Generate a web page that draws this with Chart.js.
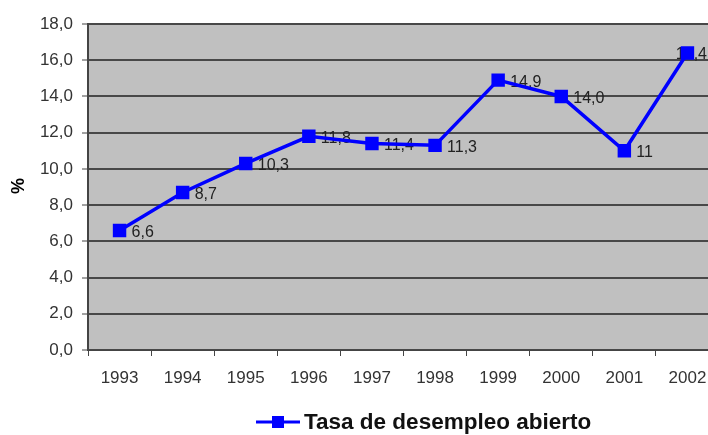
<!DOCTYPE html>
<html>
<head>
<meta charset="utf-8">
<script src="https://cdn.jsdelivr.net/npm/chart.js@4"></script>
<style>
  html, body { margin: 0; padding: 0; background: #fff; overflow: hidden; }
  #wrap { width: 720px; height: 435px; }
</style>
</head>
<body>
<div id="wrap"><canvas id="chart" width="720" height="435"></canvas></div>
<script>
// datos
const years = ['1993', '1994', '1995', '1996', '1997', '1998', '1999', '2000', '2001', '2002'];
const tasa = [6.6, 8.7, 10.3, 11.8, 11.4, 11.3, 14.9, 14.0, 11, 16.4];
const etiquetas = ['6,6', '8,7', '10,3', '11,8', '11,4', '11,3', '14,9', '14,0', '11', '16,4'];
const serieNombre = 'Tasa de desempleo abierto';

const BLUE = '#0000ff';
const FONT = "'Liberation Sans', Arial, sans-serif";

// fondo gris del área de trazado
const fondo = {
  id: 'fondo',
  beforeDraw(chart) {
    const { ctx, chartArea: a } = chart;
    ctx.save();
    ctx.fillStyle = '#c0c0c0';
    ctx.fillRect(a.left, a.top, a.right - a.left, a.bottom - a.top);
    ctx.restore();
  }
};

// etiquetas de datos (debajo de la línea), título del eje y leyenda
const extras = {
  id: 'extras',
  beforeDatasetsDraw(chart) {
    const { ctx } = chart;
    const meta = chart.getDatasetMeta(0);
    ctx.save();
    ctx.font = '16px ' + FONT;
    ctx.fillStyle = '#222';
    ctx.textBaseline = 'middle';
    ctx.textAlign = 'left';
    meta.data.forEach((pt, i) => {
      const w = ctx.measureText(etiquetas[i]).width;
      let x = pt.x + 12;
      if (x + w > 707) x = 707 - w;
      ctx.fillText(etiquetas[i], x, pt.y + 2);
    });
    ctx.restore();
  },
  afterDatasetsDraw(chart) {
    const { ctx } = chart;
    ctx.save();
    // "%"
    ctx.save();
    ctx.translate(19, 186);
    ctx.rotate(-Math.PI / 2);
    ctx.font = 'bold 18px ' + FONT;
    ctx.fillStyle = '#000';
    ctx.textAlign = 'center';
    ctx.textBaseline = 'middle';
    ctx.fillText('%', 0, 0);
    ctx.restore();

    // leyenda
    const ly = 422;
    ctx.strokeStyle = BLUE;
    ctx.lineWidth = 3;
    ctx.beginPath();
    ctx.moveTo(256, ly);
    ctx.lineTo(300, ly);
    ctx.stroke();
    ctx.fillStyle = BLUE;
    ctx.fillRect(272, ly - 6, 12, 12);
    ctx.font = 'bold 22.5px ' + FONT;
    ctx.fillStyle = '#111';
    ctx.textAlign = 'left';
    ctx.textBaseline = 'middle';
    ctx.fillText(serieNombre, 304, ly + 1);
    ctx.restore();
  }
};

new Chart(document.getElementById('chart'), {
  type: 'line',
  data: {
    labels: years,
    datasets: [{
      label: serieNombre,
      data: tasa,
      borderColor: BLUE,
      backgroundColor: BLUE,
      borderWidth: 3.5,
      pointStyle: 'rect',
      pointRadius: 9.5,
      pointBorderWidth: 0,
      tension: 0
    }]
  },
  options: {
    responsive: false,
    animation: false,
    layout: { autoPadding: false, padding: { top: 24, left: 0, right: 1, bottom: 40 } },
    plugins: {
      legend: { display: false },
      tooltip: { enabled: false }
    },
    scales: {
      x: {
        offset: true,
        grid: {
          offset: true,
          drawOnChartArea: false,
          tickLength: 6,
          color: '#444',
          lineWidth: 1
        },
        border: { color: '#444', width: 1 },
        ticks: {
          color: '#333',
          font: { family: FONT, size: 17 },
          padding: 12,
          maxRotation: 0,
          autoSkip: false
        },
        afterFit(s) { s.height = 45; }
      },
      y: {
        min: 0,
        max: 18,
        grid: {
          color: '#484848',
          lineWidth: 2,
          tickLength: 6,
          tickColor: '#444',
          tickWidth: 1
        },
        border: { color: '#444', width: 2 },
        ticks: {
          stepSize: 2,
          color: '#333',
          font: { family: FONT, size: 17 },
          padding: 9,
          callback: v => v.toFixed(1).replace('.', ',')
        },
        afterFit(s) { s.width = 88; }
      }
    }
  },
  plugins: [fondo, extras]
});
</script>
</body>
</html>
